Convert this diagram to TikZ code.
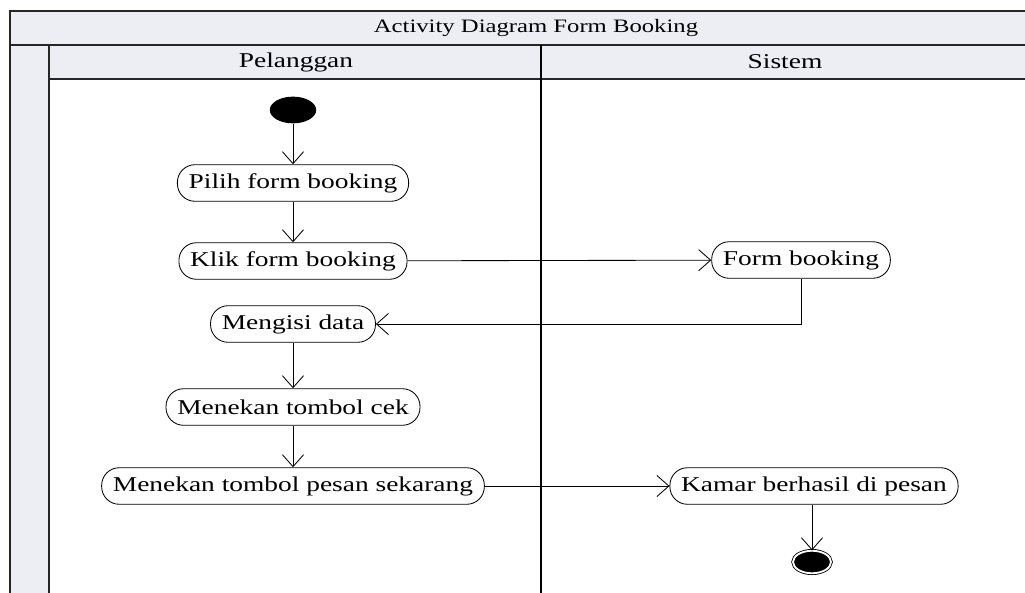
\documentclass[tikz,border=0pt]{standalone}
\usepackage{fontspec}
\setmainfont{Liberation Serif}[FakeStretch=1.3]
\usetikzlibrary{shapes.geometric}
\usetikzlibrary{arrows.meta}

\definecolor{bandgray}{HTML}{ECEEF3}

\begin{document}
\begin{tikzpicture}[x=0.025cm,y=-0.025cm,
	font=\fontsize{15}{17}\selectfont,
	band/.style={fill=bandgray,draw=black!85,line width=0.9pt},
	lane/.style={draw=black,line width=0.9pt},
	act/.style={draw,fill=white,line width=0.6pt,rounded corners=12.5pt,
		minimum height=26pt,inner xsep=8pt,inner ysep=2pt},
	startnode/.style={ellipse,fill=black,minimum width=33pt,minimum height=19pt,inner sep=0pt},
	stopnode/.style={ellipse,draw,fill=black,line width=0.6pt,double=white,double distance=1.3pt,
		minimum width=27pt,minimum height=16pt,inner sep=0pt},
	flow/.style={-{Straight Barb[length=8.5pt,width=15pt]},line width=0.6pt}]
	\useasboundingbox (0,0) rectangle (1025,592);
	\clip (0,0) rectangle (1025,592);

	% swimlane frame
	\fill[white] (0,0) rectangle (1025,592);
	\draw[band] (10,11) rectangle (1040,45);
	\draw[band] (10,45) rectangle (49,610);
	\draw[band] (49,45) rectangle (1040,79);
	\draw[lane] (541,45) -- (541,610);
	\node (title) at (536,28) {\fontsize{13.5}{16}\selectfont Activity Diagram Form Booking};
	\node (laneA) at (296,62) {Pelanggan};
	\node (laneB) at (785,62) {Sistem};

	% activities
	\node[startnode] (start) at (293,110) {};
	\node[act] (pilih) at (293,183) {Pilih form booking};
	\node[act] (klik) at (293,261) {Klik form booking};
	\node[act] (form) at (801,260) {Form booking};
	\node[act] (isi) at (293,324) {Mengisi data};
	\node[act] (cek) at (293,407) {Menekan tombol cek};
	\node[act] (pesan) at (293,486) {Menekan tombol pesan sekarang};
	\node[act] (kamar) at (814,486) {Kamar berhasil di pesan};
	\node[stopnode] (stop) at (812,562) {};

	% transitions
	\draw[flow] (start) -- (pilih);
	\draw[flow] (pilih) -- (klik);
	\draw[flow] (klik) -- (form);
	\draw[flow] (form.south) |- (isi.east);
	\draw[flow] (isi) -- (cek);
	\draw[flow] (cek) -- (pesan);
	\draw[flow] (pesan) -- (kamar);
	\draw[flow] (kamar.south -| stop) -- (stop);
\end{tikzpicture}
\end{document}
